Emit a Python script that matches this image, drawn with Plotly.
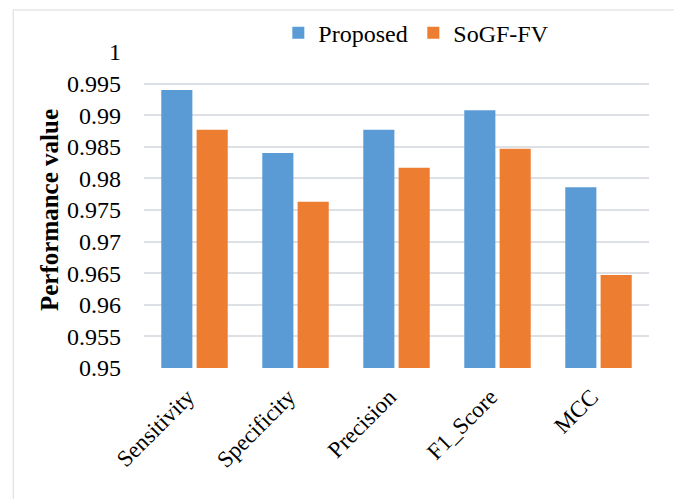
import plotly.graph_objects as go

categories = ["Sensitivity", "Specificity", "Precision", "F1_Score", "MCC"]
proposed = [0.9940, 0.9840, 0.9877, 0.9908, 0.9786]
sogf_fv = [0.9877, 0.9763, 0.9817, 0.9847, 0.9647]
tick_vals = [0.95, 0.955, 0.96, 0.965, 0.97, 0.975, 0.98, 0.985, 0.99, 0.995, 1.0]
tick_text = ["0.95", "0.955", "0.96", "0.965", "0.97", "0.975", "0.98", "0.985", "0.99", "0.995", "1"]

FONT = "Liberation Serif, Times New Roman, serif"

fig = go.Figure()
fig.add_trace(go.Bar(name="Proposed", x=categories, y=proposed,
                     marker=dict(color="#5B9BD5", line=dict(width=0))))
fig.add_trace(go.Bar(name="SoGF-FV", x=categories, y=sogf_fv,
                     marker=dict(color="#ED7D31", line=dict(width=0))))

fig.update_layout(
    width=674, height=491,
    margin=dict(l=136, r=33, t=44, b=131, autoexpand=False),
    paper_bgcolor="white", plot_bgcolor="white",
    barmode="group", bargap=0.3, bargroupgap=0.12,
    font=dict(family=FONT, size=23, color="#000000"),
    legend=dict(orientation="h", x=0.266, y=1.06, xanchor="left", yanchor="middle",
                entrywidth=90, entrywidthmode="pixels",
                font=dict(family=FONT, size=24, color="#000000"),
                bgcolor="rgba(0,0,0,0)"),
    xaxis=dict(tickangle=-45, showgrid=False, showline=False, ticks="",
               automargin=False, ticklabelshift=-7, ticklabelstandoff=10,
               tickfont=dict(family=FONT, size=23, color="#000000")),
    yaxis=dict(range=[0.95, 1.0], tickvals=tick_vals, ticktext=tick_text,
               showgrid=True, gridcolor="#DDE1E6", gridwidth=2,
               zeroline=False, showline=False, ticks="", automargin=False,
               ticklabelstandoff=22,
               tickfont=dict(family=FONT, size=24, color="#000000"),
               title=dict(text="<b>Performance value</b>", standoff=1,
                          font=dict(family=FONT, size=25, color="#000000"))),
    shapes=[dict(type="rect", xref="paper", yref="paper",
                 x0=-0.259, x1=1.061, y0=-0.45, y1=1.133,
                 line=dict(color="#D9D9D9", width=1), fillcolor="rgba(0,0,0,0)",
                 layer="below")],
)

fig.write_html("out.html")
